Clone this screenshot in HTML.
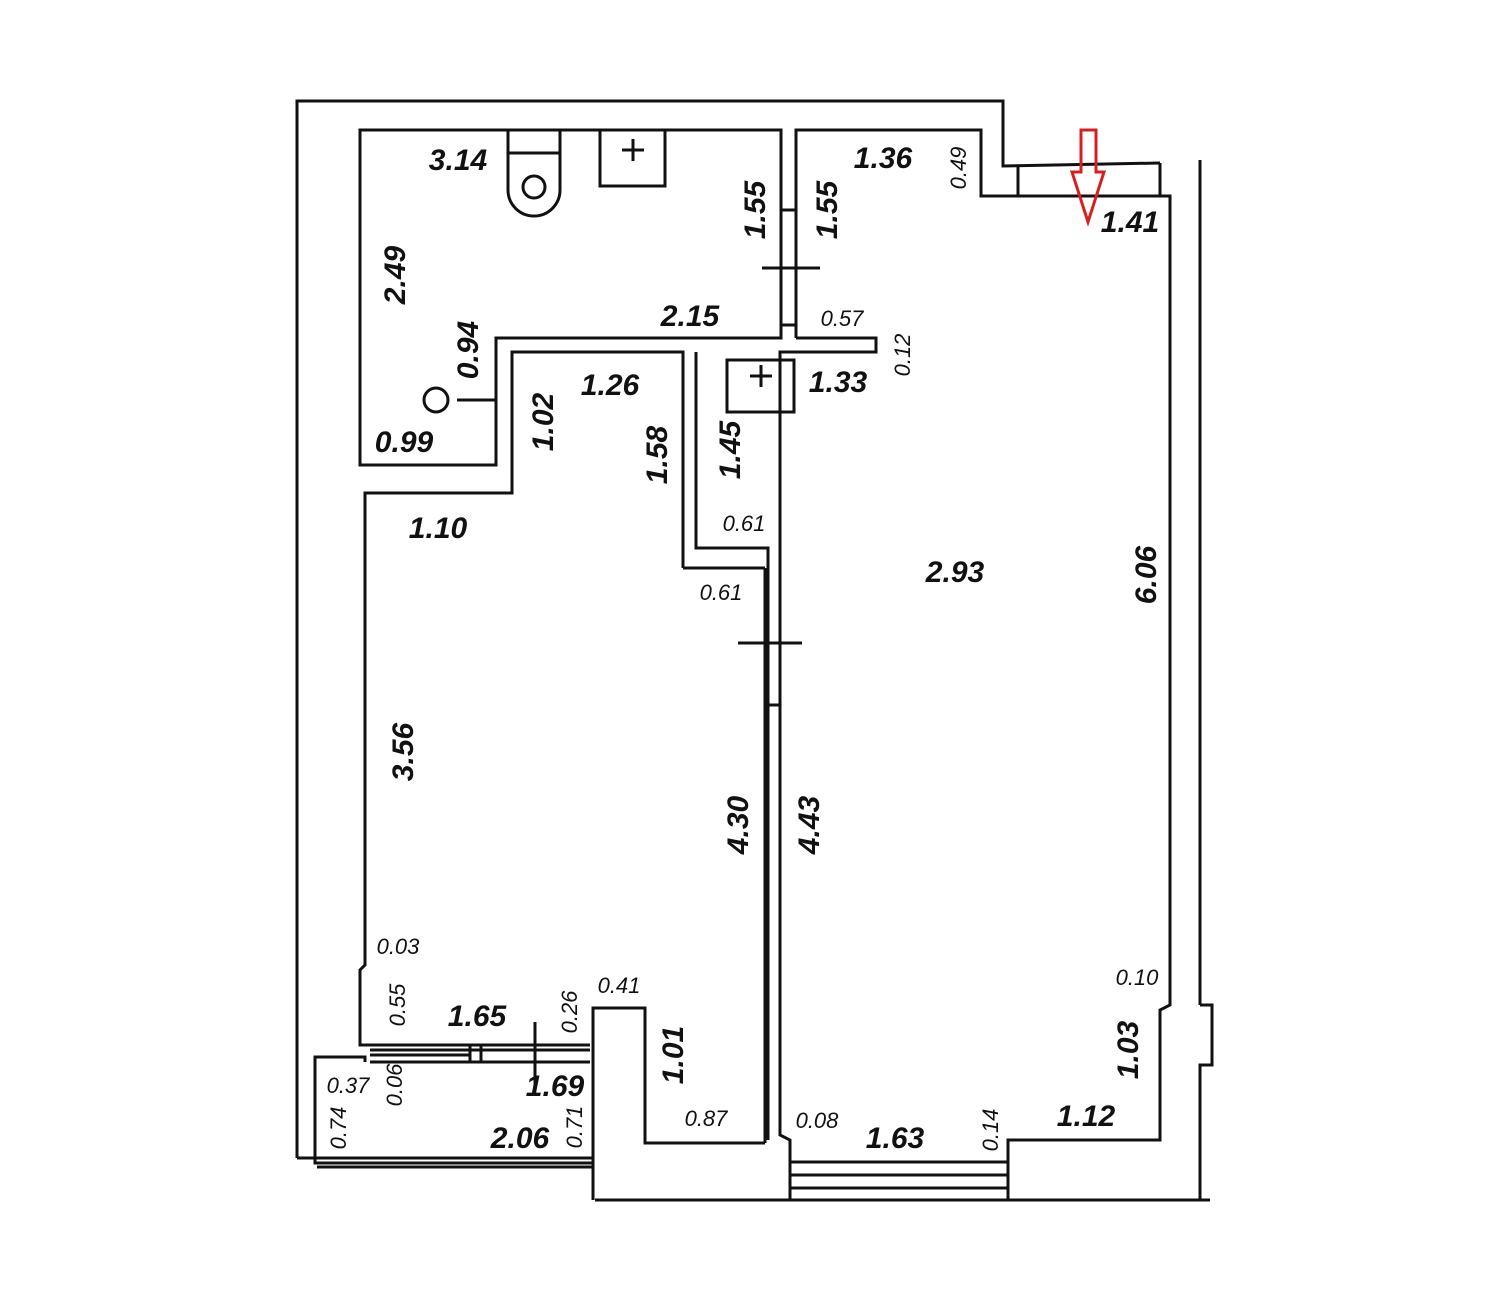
<!DOCTYPE html>
<html><head><style>
html,body{margin:0;padding:0;background:#fff;}
svg text{font-family:"Liberation Sans",sans-serif;font-style:italic;font-weight:bold;fill:#111;}
.b{font-size:30px}
.s{font-size:22px;font-weight:normal}
</style></head><body>
<svg width="1500" height="1298" viewBox="0 0 1500 1298" xmlns="http://www.w3.org/2000/svg">
<g fill="none" stroke="#111" stroke-width="3">
<!-- outer -->
<polyline points="297,1158 297,101 1003,101 1003,166 1160,163"/>
<line x1="1200" y1="160" x2="1200" y2="1005"/>
<polyline points="1200,1005 1212,1005 1212,1065 1200,1065 1200,1200"/>
<line x1="595" y1="1200" x2="1210" y2="1200"/>
<line x1="1018" y1="166" x2="1018" y2="196"/>
<line x1="1160" y1="163" x2="1160" y2="196"/>
<!-- bathroom -->
<polygon points="360,130 781,130 781,338 496,338 496,465 360,465"/>
<line x1="457" y1="400" x2="496" y2="400"/>
<circle cx="436" cy="400" r="12"/>
<path d="M508,130 L508,190 A26,26 0 0 0 560,190 L560,130"/>
<line x1="508" y1="153" x2="560" y2="153"/>
<circle cx="534" cy="187" r="11"/>
<rect x="600" y="130" width="65" height="56"/>
<line x1="622" y1="150" x2="644" y2="150"/><line x1="633" y1="139" x2="633" y2="161"/>
<!-- right room -->
<polyline points="796,338 796,130 981,130 981,196 1170,196 1170,1005 1160,1010 1160,1140 1008,1140 1008,1162 790,1162 790,1140 780,1135 780,352 876,352 876,338 796,338"/>
<line x1="781" y1="210" x2="796" y2="210"/><line x1="781" y1="325" x2="796" y2="325"/>
<line x1="762" y1="268" x2="820" y2="268"/>
<line x1="790" y1="1175" x2="1008" y2="1175"/><line x1="790" y1="1188" x2="1008" y2="1188"/>
<line x1="790" y1="1162" x2="790" y2="1200"/><line x1="1008" y1="1162" x2="1008" y2="1200"/>
<rect x="727" y="360" width="67" height="52"/>
<line x1="750" y1="376" x2="772" y2="376"/><line x1="761" y1="365" x2="761" y2="387"/>
<!-- corridor -->
<polyline points="696,352 696,548 768,548 768,575"/>
<line x1="768" y1="575" x2="768" y2="1140"/>
<line x1="765" y1="705" x2="780" y2="705"/>
<line x1="738" y1="643" x2="802" y2="643"/>
<!-- bedroom -->
<polyline points="683,568 683,352 512,352 512,493 365,493 365,965 360,970 360,1045 590,1045"/>
<line x1="683" y1="568" x2="765" y2="568"/>
<line x1="765" y1="568" x2="765" y2="1143"/>
<polyline points="593,1200 593,1008 645,1008 645,1143 765,1143"/>
<line x1="370" y1="1050" x2="590" y2="1050"/><line x1="370" y1="1055" x2="470" y2="1055"/><line x1="370" y1="1062" x2="590" y2="1062"/>
<line x1="470" y1="1045" x2="470" y2="1062"/><line x1="481" y1="1045" x2="481" y2="1062"/>
<line x1="535" y1="1022" x2="535" y2="1085"/>
<!-- balcony -->
<polyline points="365,1062 365,1057 315,1057 315,1163 593,1163"/>
<line x1="297" y1="1158" x2="593" y2="1158"/>
<line x1="317" y1="1167" x2="593" y2="1167"/>
</g>
<polygon points="1081,130 1096,130 1096,172 1104,172 1088,222 1072,172 1081,172" fill="none" stroke="#d62020" stroke-width="3"/>
<g>
<text class="b" x="458" y="170" text-anchor="middle">3.14</text>
<text class="b" transform="translate(405,275) rotate(-90)" text-anchor="middle">2.49</text>
<text class="b" transform="translate(765,210) rotate(-90)" text-anchor="middle">1.55</text>
<text class="b" transform="translate(837,210) rotate(-90)" text-anchor="middle">1.55</text>
<text class="b" x="883" y="168" text-anchor="middle">1.36</text>
<text class="s" transform="translate(966,168) rotate(-90)" text-anchor="middle">0.49</text>
<text class="b" x="1130" y="232" text-anchor="middle">1.41</text>
<text class="b" x="690" y="326" text-anchor="middle">2.15</text>
<text class="s" x="842" y="326" text-anchor="middle">0.57</text>
<text class="s" transform="translate(910,355) rotate(-90)" text-anchor="middle">0.12</text>
<text class="b" transform="translate(478,350) rotate(-90)" text-anchor="middle">0.94</text>
<text class="b" x="610" y="395" text-anchor="middle">1.26</text>
<text class="b" x="838" y="392" text-anchor="middle">1.33</text>
<text class="b" x="404" y="452" text-anchor="middle">0.99</text>
<text class="b" transform="translate(553,422) rotate(-90)" text-anchor="middle">1.02</text>
<text class="b" transform="translate(667,455) rotate(-90)" text-anchor="middle">1.58</text>
<text class="b" transform="translate(740,450) rotate(-90)" text-anchor="middle">1.45</text>
<text class="b" x="438" y="538" text-anchor="middle">1.10</text>
<text class="s" x="744" y="531" text-anchor="middle">0.61</text>
<text class="s" x="721" y="600" text-anchor="middle">0.61</text>
<text class="b" x="955" y="582" text-anchor="middle">2.93</text>
<text class="b" transform="translate(1156,575) rotate(-90)" text-anchor="middle">6.06</text>
<text class="b" transform="translate(413,752) rotate(-90)" text-anchor="middle">3.56</text>
<text class="b" transform="translate(748,825) rotate(-90)" text-anchor="middle">4.30</text>
<text class="b" transform="translate(819,825) rotate(-90)" text-anchor="middle">4.43</text>
<text class="s" x="398" y="954" text-anchor="middle">0.03</text>
<text class="s" x="1137" y="985" text-anchor="middle">0.10</text>
<text class="s" transform="translate(405,1005) rotate(-90)" text-anchor="middle">0.55</text>
<text class="b" x="477" y="1026" text-anchor="middle">1.65</text>
<text class="s" transform="translate(577,1012) rotate(-90)" text-anchor="middle">0.26</text>
<text class="s" x="619" y="993" text-anchor="middle">0.41</text>
<text class="b" transform="translate(683,1055) rotate(-90)" text-anchor="middle">1.01</text>
<text class="b" transform="translate(1138,1050) rotate(-90)" text-anchor="middle">1.03</text>
<text class="s" x="348" y="1093" text-anchor="middle">0.37</text>
<text class="s" transform="translate(402,1085) rotate(-90)" text-anchor="middle">0.06</text>
<text class="b" x="555" y="1096" text-anchor="middle">1.69</text>
<text class="s" transform="translate(346,1128) rotate(-90)" text-anchor="middle">0.74</text>
<text class="b" x="520" y="1148" text-anchor="middle">2.06</text>
<text class="s" transform="translate(582,1127) rotate(-90)" text-anchor="middle">0.71</text>
<text class="s" x="706" y="1126" text-anchor="middle">0.87</text>
<text class="s" x="817" y="1128" text-anchor="middle">0.08</text>
<text class="b" x="895" y="1148" text-anchor="middle">1.63</text>
<text class="s" transform="translate(998,1130) rotate(-90)" text-anchor="middle">0.14</text>
<text class="b" x="1086" y="1126" text-anchor="middle">1.12</text>
</g>
</svg>
</body></html>
